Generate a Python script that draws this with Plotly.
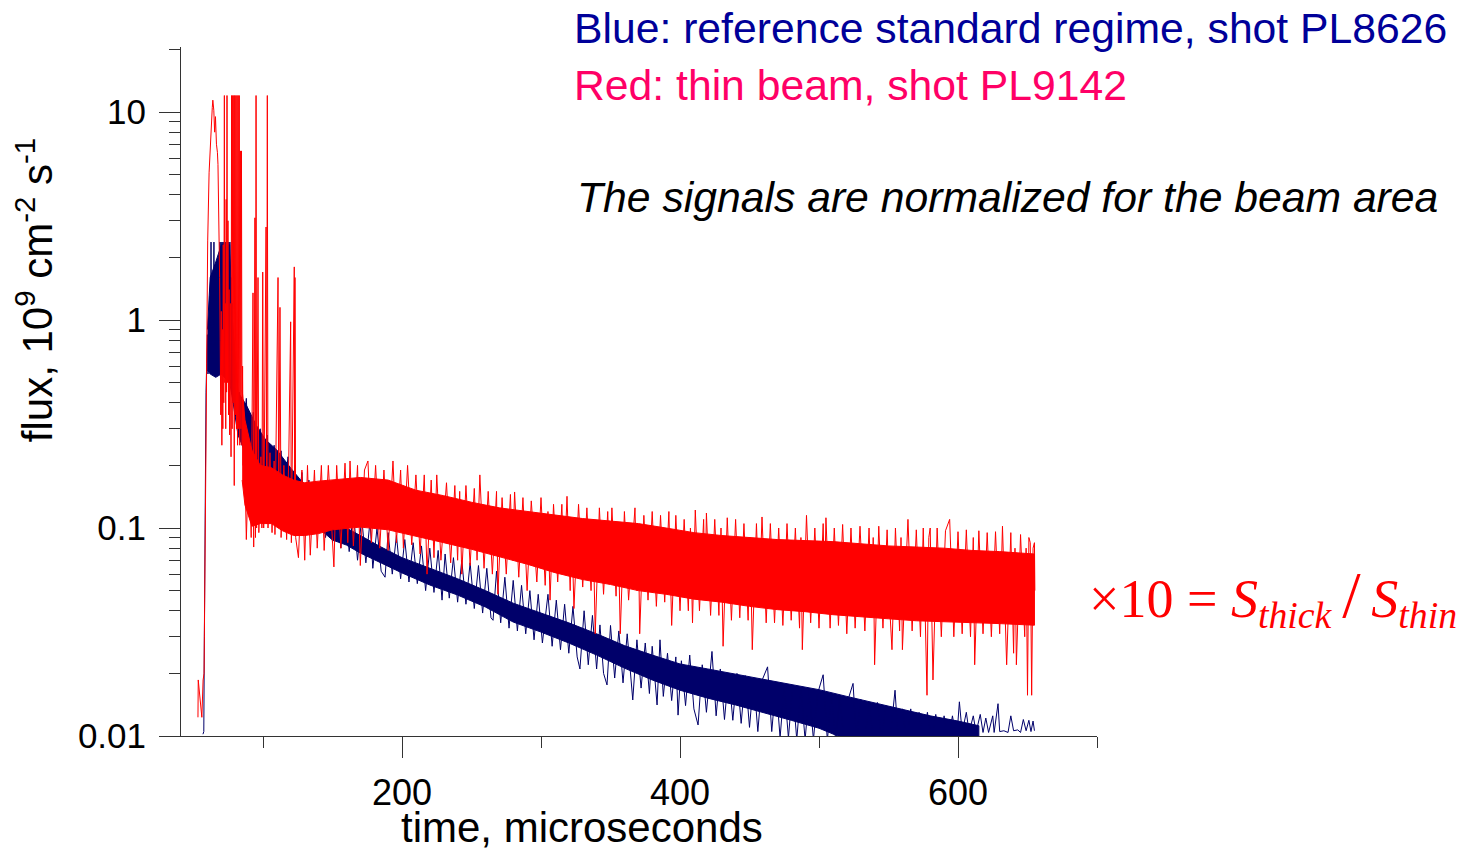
import plotly.graph_objects as go

# ---------------- thin beam, shot PL9142 (red) ----------------
# onset, main peak and the early burst of spikes (time in microseconds, flux)
red_burst_t = [53.2, 53.4, 56.0, 56.9, 57.6, 58.4, 59.0, 59.7, 60.2, 61.2,
               62.6, 63.5, 63.9, 64.6, 65.2, 65.8, 66.5, 67.2, 67.6, 68.1,
               68.4, 68.8, 69.2, 69.6, 70.0, 70.4, 70.8, 71.1, 71.4, 71.8,
               72.2, 72.5, 72.9, 73.2, 73.5, 73.8, 74.1, 74.4, 74.8, 75.2,
               75.6, 76.0, 76.5, 77.0, 77.4, 77.8, 78.2, 78.6, 79.0, 79.3,
               79.7, 80.1, 80.5, 80.9, 81.3, 81.7, 82.1, 82.5, 82.9, 83.3,
               83.7, 84.1, 84.5, 84.9, 85.3, 85.7]
red_burst_v = [0.0123, 0.0186, 0.0123, 0.0186, 0.02, 0.12, 0.55, 1.15, 2.4, 5.1,
               8.9, 10.5, 11.4, 10.2, 8.0, 9.5, 7.0, 6.4, 5.6, 3.8,
               2.9, 1.6, 0.8, 0.35, 1.1, 0.25, 0.9, 0.3, 2.3, 0.4,
               12, 0.5, 1.2, 0.3, 3.8, 0.45, 12, 0.5, 3.0, 0.35,
               1.4, 0.28, 1.2, 0.22, 12, 0.3, 12, 0.4, 12, 0.16,
               12, 0.35, 12, 0.3, 12, 0.25, 12, 0.3, 12, 0.25,
               6.5, 0.3, 6.5, 0.25, 0.6, 0.2]

# dense part of the noisy signal: upper / lower edge of the solid band
red_core_t = [85, 87, 92, 98, 106, 114, 122, 130, 140, 150, 170, 190, 210, 230,
              250, 270, 290, 310, 330, 350, 370, 390, 410, 430, 450, 470, 490,
              510, 530, 550, 570, 590, 610, 630, 655]
red_core_hi = [0.46, 0.331, 0.237, 0.2, 0.195, 0.18, 0.17, 0.165, 0.168, 0.17,
               0.175, 0.17, 0.152, 0.143, 0.133, 0.125, 0.12, 0.115, 0.111, 0.108,
               0.105, 0.1, 0.095, 0.092, 0.09, 0.088, 0.087, 0.086, 0.084,
               0.082, 0.081, 0.08, 0.078, 0.077, 0.075]
red_core_lo = [0.17, 0.129, 0.102, 0.105, 0.105, 0.097, 0.092, 0.092, 0.094, 0.098,
               0.101, 0.098, 0.091, 0.085, 0.079, 0.073, 0.067, 0.061, 0.0565,
               0.0535, 0.05, 0.048, 0.0455, 0.044, 0.042, 0.0405, 0.0396, 0.0383,
               0.0375, 0.0366, 0.0358, 0.0353, 0.035, 0.0347, 0.0341]

# individual excursions of the noise above / below the band (t, flux)
red_noise = [
    (86, 0.41), (88, 0.088), (90, 0.25), (91.5, 0.09), (92.8, 1.35), (93.3, 0.081),
    (94.2, 3.1), (94.6, 0.09), (95.0, 12), (95.4, 0.1), (96.4, 1.6), (97.0, 0.095),
    (98.5, 0.22), (99.2, 0.1), (99.8, 1.7), (100.5, 0.1), (102.2, 2.8), (102.6, 0.105),
    (103.1, 12), (103.6, 0.1), (105, 0.23), (106.5, 0.095), (108, 0.21), (108.6, 0.093),
    (110.8, 1.6), (111.3, 0.1), (112.2, 1.15), (113, 0.09), (115, 0.2), (117, 0.088),
    (118.5, 0.21), (119.9, 0.98), (120.4, 0.085), (122.5, 1.8), (122.8, 0.1), (123.0, 1.6),
    (123.5, 0.09), (125.5, 0.072), (128, 0.19), (130, 0.07), (132, 0.2), (134, 0.074),
    (137, 0.19), (139, 0.08), (142, 0.2), (144, 0.078), (147, 0.2), (151, 0.065),
    (153, 0.2), (156, 0.08), (159, 0.205), (161, 0.085), (162.6, 0.21), (165, 0.082),
    (168, 0.2), (170, 0.066), (173, 0.19), (175.5, 0.21), (178, 0.085), (181, 0.2),
    (184, 0.08), (187, 0.19), (190, 0.078), (193.5, 0.21), (196, 0.085), (199, 0.19),
    (201, 0.08), (204, 0.2), (207, 0.083), (210, 0.18), (213, 0.075), (216, 0.18),
    (218, 0.06), (221, 0.17), (223, 0.072), (225, 0.18), (228, 0.07), (232, 0.165),
    (235, 0.068), (238, 0.16), (240, 0.07), (241.5, 0.15), (243, 0.06), (246, 0.16),
    (249, 0.066), (252, 0.155), (254, 0.07), (256, 0.18), (259, 0.064), (262, 0.15),
    (265, 0.06), (268, 0.15), (269, 0.048), (272, 0.14), (275, 0.06), (278, 0.145),
    (279.5, 0.07), (281, 0.149), (284, 0.058), (287, 0.14), (290, 0.05), (293, 0.135),
    (297, 0.055), (300, 0.14), (303, 0.053), (305, 0.12), (306.5, 0.045), (309, 0.13),
    (312, 0.055), (315, 0.13), (316.5, 0.06), (318.7, 0.142), (321, 0.05), (322, 0.11),
    (323.7, 0.041), (327, 0.13), (330, 0.052), (333, 0.125), (336, 0.05), (337.5, 0.1),
    (339, 0.031), (342, 0.125), (345, 0.048), (348, 0.12), (349.5, 0.06), (351, 0.125),
    (354, 0.047), (355.5, 0.1), (357, 0.031), (360, 0.12), (363, 0.045), (367.6, 0.125),
    (369, 0.05), (370, 0.1), (371, 0.031), (374, 0.115), (377, 0.045), (380, 0.12),
    (383, 0.042), (386, 0.115), (389, 0.044), (392, 0.12), (394, 0.034), (397, 0.115),
    (400, 0.04), (403, 0.11), (406, 0.04), (407.5, 0.1), (409, 0.035), (411, 0.122),
    (414, 0.04), (417, 0.11), (418, 0.05), (419, 0.118), (422, 0.038), (425, 0.11),
    (428, 0.038), (429.5, 0.1), (431, 0.027), (434, 0.112), (437, 0.036), (440, 0.11),
    (443, 0.037), (446, 0.105), (449, 0.036), (450.5, 0.09), (452, 0.026), (455, 0.105),
    (457, 0.045), (459, 0.113), (462, 0.035), (465, 0.105), (468, 0.035), (471, 0.1),
    (474, 0.034), (477, 0.105), (480, 0.036), (483, 0.1), (486, 0.033), (487, 0.09),
    (488, 0.026), (491, 0.115), (494, 0.035), (497, 0.1), (500, 0.033), (503, 0.105),
    (504, 0.05), (505, 0.112), (508, 0.033), (511, 0.1), (514, 0.034), (517, 0.104),
    (520, 0.031), (523, 0.1), (526, 0.033), (529.5, 0.102), (533, 0.032), (536, 0.1),
    (538, 0.04), (539, 0.09), (540, 0.022), (543, 0.102), (546, 0.033), (549, 0.098),
    (551, 0.04), (552.5, 0.026), (555, 0.1), (558, 0.032), (559, 0.09), (560, 0.026),
    (564, 0.11), (567, 0.032), (570, 0.098), (573, 0.03), (575, 0.1), (576.5, 0.04),
    (577.7, 0.0157), (579, 0.09), (580, 0.1), (582, 0.0186), (585, 0.1), (588, 0.03),
    (591, 0.097), (594, 0.11), (597, 0.03), (600, 0.096), (603, 0.031), (606, 0.098),
    (609, 0.03), (611, 0.09), (612, 0.022), (615, 0.097), (618, 0.031), (621, 0.095),
    (624, 0.03), (627, 0.096), (630, 0.031), (632, 0.102), (634, 0.04), (635, 0.022),
    (638, 0.095), (640, 0.025), (641, 0.08), (642, 0.022), (645, 0.093), (648, 0.03),
    (649, 0.08), (650, 0.0157), (651, 0.09), (652, 0.085), (653, 0.0157), (654, 0.08),
    (655, 0.085), (655.3, 0.05),
]

# ------------- reference standard regime, shot PL8626 (blue) -------------
blue_burst_t = [56.8, 57.4, 57.8, 58.4, 59.0, 59.5, 60.0, 60.4, 60.9, 61.3,
                61.8, 62.2, 62.6, 63.0, 63.5, 64.0, 64.7, 65.2, 65.7, 66.2,
                66.7, 67.2, 67.7, 68.2, 68.7, 69.0, 69.4, 69.8, 70.2, 70.6,
                71.0, 71.4, 71.8, 72.2, 72.6, 73.0, 73.4, 73.8, 74.2, 74.6,
                75.0, 75.4, 75.8, 76.2, 76.6, 77.0, 77.4, 78.0, 78.5, 79.1,
                79.6, 80.2, 80.7, 81.3, 82.0]
blue_burst_v = [0.0102, 0.0105, 0.03, 0.15, 0.45, 0.62, 0.85, 0.55, 1.0, 0.6,
                1.3, 0.7, 2.37, 0.8, 1.5, 0.65, 2.37, 0.75, 1.4, 0.55,
                1.6, 0.7, 1.2, 0.6, 2.0, 2.37, 0.9, 2.37, 1.0, 2.37,
                0.85, 2.37, 1.1, 2.37, 0.9, 2.37, 0.8, 2.37, 1.0, 2.37,
                0.75, 2.37, 0.9, 2.37, 0.7, 1.6, 0.45, 1.2, 0.4, 0.8,
                0.38, 0.6, 0.35, 0.5, 0.3]

blue_core_t = [60, 62, 66, 70, 76, 78, 82, 88, 95, 102, 110, 120, 130, 140, 150,
               160, 170, 185, 200, 220, 240, 260, 280, 300, 320, 340, 360, 380,
               400, 420, 440, 460, 480, 500, 520, 540, 560, 580, 600, 615]
blue_core_hi = [0.9, 1.6, 1.9, 2.3, 2.3, 1.0, 0.45, 0.39, 0.313, 0.265, 0.237, 0.194,
                0.161, 0.132, 0.11, 0.1, 0.092, 0.081, 0.072, 0.064, 0.057, 0.05,
                0.0435, 0.039, 0.035, 0.031, 0.0272, 0.0245, 0.0222, 0.021, 0.0198,
                0.0188, 0.0177, 0.0167, 0.0155, 0.0144, 0.0134, 0.0125, 0.0118, 0.0112]
blue_core_lo = [0.575, 0.55, 0.53, 0.55, 0.5, 0.42, 0.28, 0.224, 0.19, 0.17, 0.152,
                0.129, 0.1155, 0.1, 0.0875, 0.0828, 0.0758, 0.0679, 0.0608, 0.0532,
                0.0476, 0.0417, 0.0353, 0.0316, 0.028, 0.0245, 0.0212, 0.0186, 0.0166,
                0.0152, 0.0141, 0.013, 0.0119, 0.0109, 0.0096, 0.0091, 0.0091, 0.0091,
                0.0091, 0.0091]

blue_noise = [
    (83, 0.45), (85, 0.25), (88, 0.42), (90, 0.2), (93, 0.36), (95, 0.18),
    (98, 0.3), (100, 0.165), (103, 0.28), (105, 0.155), (108, 0.25), (110, 0.145),
    (113, 0.235), (115, 0.14), (118, 0.22), (120, 0.125), (123, 0.2), (125, 0.12),
    (128, 0.185), (130, 0.11), (133, 0.17), (135, 0.105), (138, 0.155), (140, 0.095),
    (143, 0.145), (145, 0.09), (148, 0.135), (150, 0.085), (153, 0.13), (156, 0.08),
    (159, 0.127), (162, 0.077), (165, 0.12), (168, 0.07), (171, 0.112), (174, 0.068),
    (177, 0.108), (179, 0.064), (182, 0.1), (185, 0.062), (187.8, 0.058), (190, 0.095),
    (193, 0.06), (196, 0.092), (199, 0.057), (202, 0.088), (205, 0.055), (208, 0.085),
    (211, 0.054), (214, 0.082), (217, 0.05), (220, 0.08), (223, 0.049), (226, 0.078),
    (228.8, 0.045), (231, 0.075), (234, 0.046), (237, 0.072), (240, 0.044), (243, 0.07),
    (246, 0.043), (249, 0.068), (252, 0.041), (255, 0.066), (258, 0.039), (261, 0.064),
    (264, 0.037), (265.5, 0.036), (268, 0.062), (271, 0.035), (274, 0.058), (277, 0.033),
    (280, 0.056), (283, 0.032), (286, 0.053), (289, 0.031), (292, 0.05), (295, 0.029),
    (298, 0.048), (301, 0.028), (305, 0.048), (308, 0.027), (311, 0.045), (314, 0.026),
    (317, 0.043), (320, 0.025), (323, 0.042), (326, 0.024), (328, 0.021), (331, 0.04),
    (334, 0.022), (337, 0.038), (340, 0.021), (342.4, 0.0342), (345, 0.02), (347.5, 0.0176),
    (350, 0.034), (353, 0.019), (356, 0.032), (359, 0.018), (362, 0.031), (366, 0.0149),
    (369, 0.029), (372, 0.017), (375, 0.028), (378, 0.016), (380, 0.027), (383.5, 0.0141),
    (385.6, 0.029), (388, 0.0155), (391, 0.025), (394, 0.0148), (397, 0.024), (398.6, 0.0126),
    (401, 0.023), (404, 0.014), (407, 0.0245), (410, 0.0135), (413, 0.0113), (416, 0.022),
    (419, 0.013), (423, 0.0255), (426, 0.0125), (429, 0.021), (432, 0.012), (435, 0.02),
    (438, 0.0119), (441, 0.02), (444, 0.0115), (447, 0.0195), (450, 0.011), (453, 0.019),
    (456, 0.0105), (459, 0.0185), (463, 0.0215), (466, 0.0105), (469, 0.018), (472, 0.0098),
    (475, 0.0175), (478, 0.0098), (481, 0.0172), (484, 0.0096), (487, 0.017), (490, 0.0096),
    (493, 0.0165), (496, 0.0096), (499, 0.016), (503, 0.0197), (506, 0.0095), (509, 0.016),
    (512, 0.0095), (515, 0.0155), (518, 0.0095), (521, 0.015), (524.5, 0.0179), (527, 0.0095),
    (530, 0.015), (533, 0.0095), (536, 0.0145), (539, 0.0095), (542, 0.0145), (545, 0.0095),
    (548, 0.014), (551, 0.0095), (554.7, 0.0166), (557, 0.0095), (560, 0.0135), (563, 0.0095),
    (566, 0.0135), (569, 0.0095), (572, 0.013), (575, 0.0095), (578, 0.013), (581, 0.0095),
    (584, 0.0127), (587, 0.0095), (590, 0.0125), (593, 0.0095), (596, 0.0125), (599, 0.0095),
    (601, 0.0146), (603, 0.0104), (606, 0.013), (608, 0.0104), (611, 0.0125), (613, 0.0104),
    (616, 0.0127), (618, 0.0104), (620, 0.0122), (622, 0.0104), (625, 0.0125), (626, 0.0104),
    (628.8, 0.0143), (630, 0.0105), (633, 0.0106), (636, 0.0104), (638, 0.0125), (640, 0.0106),
    (643, 0.0107), (645, 0.0104), (647, 0.012), (649, 0.0106), (651, 0.0119), (652.5, 0.0105),
    (654, 0.0118), (655, 0.0106),
]

# axis ticks
x_major = [200, 400, 600]
x_minor = [100, 300, 500, 700]
y_major = [0.01, 0.1, 1, 10]
y_labels = ["0.01", "0.1", "1", "10"]

RED = "#FF0000"
NAVY = "#00006A"
AXIS = "#333333"
SANS = "Liberation Sans, Arial, sans-serif"
SERIF = "Liberation Serif, Times New Roman, serif"


def band(t, hi, lo, color):
    """Solid band between the upper and lower edge of a noisy signal."""
    t = list(t)
    return go.Scatter(x=t + t[::-1], y=list(hi) + list(lo)[::-1],
                      fill="toself", fillcolor=color, mode="lines",
                      line=dict(color=color, width=1),
                      hoverinfo="skip", showlegend=False)


def trace(t, v, color):
    return go.Scatter(x=list(t), y=list(v), mode="lines",
                      line=dict(color=color, width=1), showlegend=False)


red_noise_t, red_noise_v = zip(*red_noise)
blue_noise_t, blue_noise_v = zip(*blue_noise)

fig = go.Figure()
fig.add_trace(band(blue_core_t, blue_core_hi, blue_core_lo, NAVY))
fig.add_trace(trace(blue_burst_t + list(blue_noise_t),
                    blue_burst_v + list(blue_noise_v), NAVY))
fig.add_trace(band(red_core_t, red_core_hi, red_core_lo, RED))
fig.add_trace(trace(red_burst_t + list(red_noise_t),
                    red_burst_v + list(red_noise_v), RED))

fig.update_layout(
    width=1475, height=851,
    margin=dict(l=181, r=378, t=47, b=115),
    paper_bgcolor="white", plot_bgcolor="white",
    showlegend=False,
    font=dict(family=SANS, color="black"),
)

fig.update_xaxes(
    range=[41, 700], showgrid=False, zeroline=False,
    showline=True, linecolor=AXIS, linewidth=1,
    tickmode="array", tickvals=x_major, ticks="outside",
    ticklen=21, tickwidth=1, tickcolor=AXIS,
    tickfont=dict(size=36, family=SANS, color="black"),
    ticklabelstandoff=4,
    minor=dict(tickmode="array", tickvals=x_minor, ticks="outside",
               ticklen=11, tickwidth=1, tickcolor=AXIS, showgrid=False),
)
fig.update_yaxes(
    type="log", range=[-2, 1.3125], showgrid=False, zeroline=False,
    showline=True, linecolor=AXIS, linewidth=1,
    tickmode="array", tickvals=y_major, ticktext=y_labels, ticks="outside",
    ticklen=21, tickwidth=1, tickcolor=AXIS,
    tickfont=dict(size=35, family=SANS, color="black"),
    ticklabelstandoff=6,
    minor=dict(dtick="D1", ticks="outside", ticklen=11, tickwidth=1,
               tickcolor=AXIS, showgrid=False),
)

ratio = ("×10 = <i>S</i><sub><i>thick</i></sub>\u2009"
         "<span style='font-size:66px'>/</span>\u2009"
         "<i>S</i><sub><i>thin</i></sub>")

annotations = [
    dict(text="Blue: reference standard regime, shot PL8626",
         x=0.4269, y=1.0276, font=dict(size=42.7, color="#000099", family=SANS),
         xanchor="left", yanchor="middle"),
    dict(text="Red: thin beam, shot PL9142",
         x=0.4269, y=0.9449, font=dict(size=42.7, color="#FF0066", family=SANS),
         xanchor="left", yanchor="middle"),
    dict(text="<i>The signals are normalized for the beam area</i>",
         x=0.4301, y=0.7823, font=dict(size=42.7, color="black", family=SANS),
         xanchor="left", yanchor="middle"),
    dict(text=ratio,
         x=0.9891, y=0.2017, font=dict(size=54, color=RED, family=SERIF),
         xanchor="left", yanchor="middle"),
    dict(text="time, microseconds",
         x=0.4378, y=-0.1335, font=dict(size=42, color="black", family=SANS),
         xanchor="center", yanchor="middle"),
    dict(text="flux, 10<sup>9</sup> cm<sup>-2</sup> s<sup>-1</sup>",
         x=-0.1594, y=0.647, textangle=-90,
         font=dict(size=42, color="black", family=SANS),
         xanchor="center", yanchor="middle"),
]
for a in annotations:
    fig.add_annotation(xref="paper", yref="paper", showarrow=False, **a)

fig.write_html("out.html")
